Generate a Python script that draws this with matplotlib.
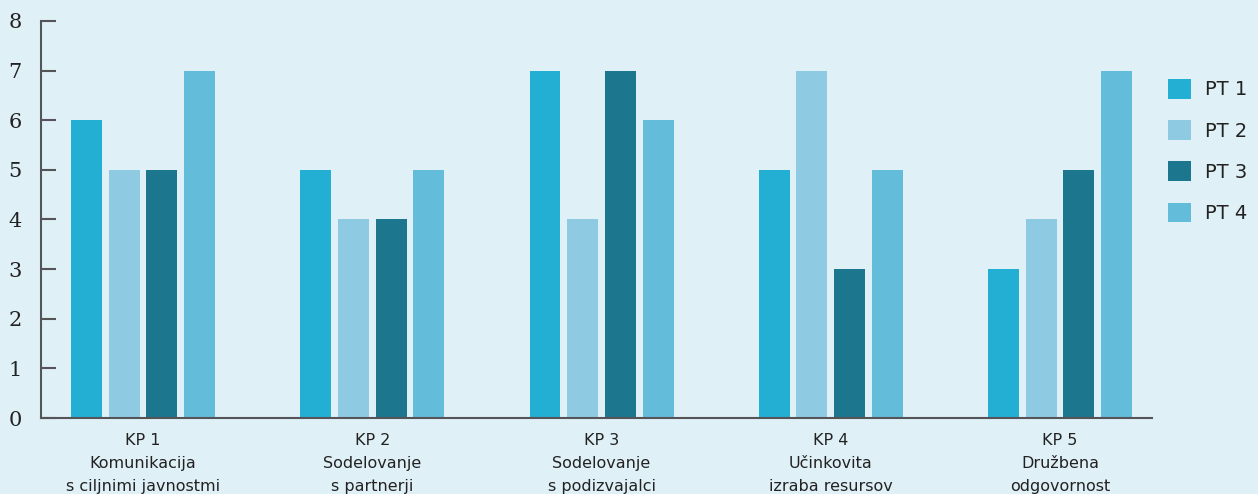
import matplotlib
matplotlib.use('Agg')
import matplotlib.pyplot as plt
import numpy as np

# chart data
categories = ['KP 1\nKomunikacija\ns ciljnimi javnostmi',
              'KP 2\nSodelovanje\ns partnerji',
              'KP 3\nSodelovanje\ns podizvajalci',
              'KP 4\nUčinkovita\nizraba resursov',
              'KP 5\nDružbena\nodgovornost']
series_names = ['PT 1', 'PT 2', 'PT 3', 'PT 4']
pt1 = [6, 5, 7, 5, 3]
pt2 = [5, 4, 4, 7, 4]
pt3 = [5, 4, 7, 3, 5]
pt4 = [7, 5, 6, 5, 7]
y_ticks = [0, 1, 2, 3, 4, 5, 6, 7, 8]

colors = ['#23aed3', '#8fcae3', '#1c778e', '#64bcdb']
bg = '#dff0f7'
axis_col = '#555559'

W, H = 1258, 494
fig = plt.figure(figsize=(W / 100, H / 100), dpi=100, facecolor=bg)
ax = fig.add_axes([41 / W, 76 / H, (1152 - 41) / W, (418 - 21) / H])
ax.set_facecolor(bg)

x = np.arange(len(categories))
step = 0.1644
width = 0.135
for i, vals in enumerate([pt1, pt2, pt3, pt4]):
    ax.bar(x + (i - 1.5) * step, vals, width, color=colors[i],
           label=series_names[i], zorder=2)

ax.set_xlim(-0.445, 4.401)
ax.set_ylim(0, 8)
ax.set_yticks(y_ticks)
ax.set_yticklabels([str(t) for t in y_ticks], fontfamily='DejaVu Serif', fontsize=15,
                   color='#222222')
ax.set_xticks(x)
ax.set_xticklabels(categories, fontfamily='DejaVu Sans', fontsize=11.5, color='#222222',
                   linespacing=1.7, va='top')

ax.tick_params(axis='y', direction='in', length=11, width=1.5, color=axis_col, pad=14)
ax.tick_params(axis='x', length=0, pad=10.5)

for s in ['top', 'right']:
    ax.spines[s].set_visible(False)
for s in ['left', 'bottom']:
    ax.spines[s].set_color(axis_col)
    ax.spines[s].set_linewidth(1.5)

leg = fig.legend(loc='upper left', bbox_to_anchor=(1168 / W, 1 - 79 / H),
                 frameon=False, fontsize=14, handlelength=1.18, handleheight=1.18,
                 labelspacing=1.07, handletextpad=0.7, borderpad=0, borderaxespad=0)
for t in leg.get_texts():
    t.set_color('#222222')

fig.savefig('out.png', dpi=100, facecolor=bg)
